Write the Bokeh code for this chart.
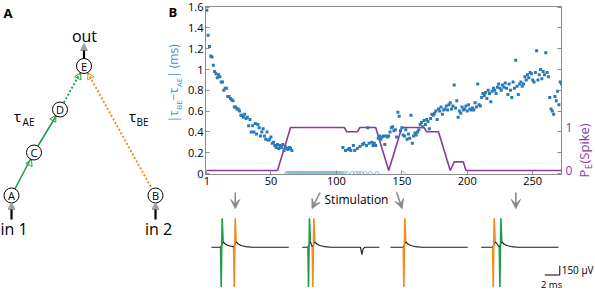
from math import pi
from bokeh.plotting import figure
from bokeh.models import (Range1d, LinearAxis, FixedTicker, CustomJSTickFormatter,
                          Arrow, VeeHead, NormalHead, ColumnDataSource)
from bokeh.layouts import row, column
from bokeh.embed import file_html
from bokeh.resources import INLINE
from bokeh.core.properties import value

FONT = "Open Sans"
BLUE = "#2a7ab8"
BLUE_LIGHT = "#72b2dc"
LABEL_BLUE = "#3d95cc"
PURPLE = "#8b3a9b"
GREEN = "#1f9e4a"
ORANGE = "#f7891f"
GRAY = "#8c8c8c"

# ---------------- panel B data ----------------
x_ticks = [1, 50, 100, 150, 200, 250]
y_ticks = [0, 0.2, 0.4, 0.6, 0.8, 1, 1.2, 1.4, 1.6]
p_ticks = [0, 1]

# |tau_BE - tau_AE| (ms), stimulations 1..66
tau_early = [1.57, 1.33, 1.22, 1.13, 1.12, 1.04, 0.98, 0.96, 0.92, 0.95,
             0.93, 0.88, 0.88, 0.80, 0.82, 0.82, 0.74, 0.74, 0.72, 0.71,
             0.70, 0.64, 0.64, 0.62, 0.62, 0.60, 0.56, 0.56, 0.54, 0.57,
             0.53, 0.54, 0.46, 0.52, 0.40, 0.46, 0.40, 0.48, 0.38, 0.47,
             0.44, 0.36, 0.40, 0.43, 0.36, 0.33, 0.40, 0.32, 0.33, 0.35,
             0.29, 0.30, 0.27, 0.25, 0.28, 0.24, 0.27, 0.25, 0.28, 0.22,
             0.26, 0.24, 0.23, 0.25, 0.24, 0.22]
tau_mid_stim = [105, 107, 109, 110, 111, 113, 114, 116, 118, 120, 121, 123,
                124, 125, 127, 128, 129, 130]
tau_mid = [0.25, 0.22, 0.23, 0.24, 0.22, 0.27, 0.22, 0.24, 0.26, 0.28, 0.29,
           0.27, 0.44, 0.29, 0.30, 0.27, 0.29, 0.27]
# stimulations 132..273
tau_late = [0.34, 0.36, 0.33, 0.35, 0.36, 0.28, 0.36, 0.35,
            0.36, 0.40, 0.44, 0.45, 0.41, 0.42, 0.35, 0.59, 0.55, 0.41,
            0.44, 0.37, 0.36, 0.42, 0.33, 0.38, 0.34, 0.56, 0.29, 0.36,
            0.39, 0.37, 0.40, 0.42, 0.47, 0.49, 0.45, 0.51, 0.47, 0.52,
            0.50, 0.43, 0.53, 0.57, 0.56, 0.58, 0.60, 0.52, 0.62, 0.60,
            0.64, 0.57, 0.61, 0.62, 0.65, 0.61, 0.66, 0.68, 0.62, 0.65,
            0.85, 0.63, 0.70, 0.54, 0.60, 0.58, 0.64, 0.61, 0.62, 0.65,
            0.60, 0.66, 0.62, 0.61, 0.63, 0.61, 0.68, 0.64, 0.86, 0.66,
            0.65, 0.73, 0.77, 0.75, 0.78, 0.72, 0.80, 0.77, 0.69, 0.79,
            0.82, 0.80, 0.77, 0.83, 0.86, 0.82, 0.80, 0.85, 0.83, 0.87,
            0.82, 0.76, 0.86, 0.80, 0.73, 0.88, 0.82, 1.09, 0.84, 0.76,
            0.86, 0.88, 0.84, 0.86, 0.93, 0.90, 0.95, 0.92, 0.97, 0.96,
            0.90, 0.88, 0.97, 1.18, 0.90, 0.95, 1.00, 0.91, 0.98, 0.95,
            1.16, 0.97, 0.93, 0.73, 0.62, 0.60, 0.57, 0.74, 0.70, 0.79,
            0.66, 0.88, 0.86, 0.84]
zero_stim = list(range(62, 105)) + [106, 108, 112, 115, 117, 119, 122, 126, 131, 151]

pspike_stim = [1, 55, 65, 106, 108, 116, 118, 130, 140, 150, 167, 169, 178, 187, 190, 197, 199, 274]
pspike = [0, 0, 1, 1, 0.9, 0.9, 1, 1, 0, 1, 1, 0.9, 0.9, 0, 0.2, 0.2, 0, 0]

# ---------------- example traces ----------------
arrow_from_stim = [24, 88, 146, 236]
arrow_to_stim = [24, 82, 150, 236]
trace_green_ms = [1.29, 0.84, None, 2.49]
trace_orange_ms = [3.03, 1.42, 1.78, 1.60]
trace_dip_ms = [None, 7.96, None, None]
trace_len_ms = 10.3
spike_dt = [-0.08, 0.0, 0.13, 0.26]
spike_uv = [0, -640, 465, 90]
decay_dt = [0.26, 0.5, 0.9, 1.5, 2.4]
decay_uv = [90, 55, 28, 10, 0]
dip_dt = [-0.2, 0.0, 0.15, 0.4]
dip_uv = [0, -120, -30, 0]
scale_ms, scale_uv = 2, 150

# ---------------- panel A diagram ----------------
node_name = ["A", "B", "C", "D", "E"]
node_x = [11, 155, 33.5, 59.5, 83.5]
node_y = [195, 195, 152, 109, 65.5]

# ---------------- layout constants (picture px) ----------------
WA = 185                     # panel A strip (also holds left axis title)
WB, HB = 390, 191            # panel B plot
BL, BR, BT, BB = 18, 12, 6, 17
WR = 20                      # right axis title strip
HT = 291 - HB                # traces strip
FR_L, FR_R = WA + BL, WA + WB - BR
FR_T, FR_B = BT, HB - BB
X0, X1 = 0, 272
Y0, Y1 = -1 / 104, 167 / 104
R0, R1 = -4 / 43, 164 / 43


def sx(px):
    return X0 + (px - FR_L) * (X1 - X0) / (FR_R - FR_L)


def base_fig(w, h, xr, yr):
    f = figure(width=w, height=h, x_range=xr, y_range=yr, x_axis_type=None, y_axis_type=None,
               toolbar_location=None, output_backend="svg", min_border=0,
               outline_line_color=None, frame_align=False)
    f.grid.visible = False
    return f


# ================= panel A =================
pa = base_fig(WA, 291, Range1d(0, WA), Range1d(291, 0))
nx = dict(zip(node_name, node_x))
ny = dict(zip(node_name, node_y))
pa.line([nx["A"], nx["C"], nx["D"]], [ny["A"], ny["C"], ny["D"]], line_color=GREEN, line_width=1.6)
pa.line([nx["D"], nx["E"]], [ny["D"], ny["E"]], line_color=GREEN, line_width=1.8, line_dash="2 2")
pa.line([nx["E"], nx["B"]], [ny["E"], ny["B"]], line_color=ORANGE, line_width=1.8, line_dash="2 2")
pa.scatter([29.3, 53.3, 78.3], [162.7, 118.3, 76], marker="triangle", size=7, fill_color=None,
           line_color=GREEN, line_width=1, angle=[-0.45, -0.52, -0.47])
pa.scatter([89.3], [76], marker="triangle", size=7, fill_color=None,
           line_color=ORANGE, line_width=1, angle=[0.48])
pa.scatter(node_x, node_y, marker="circle", size=15, fill_color="white", line_color="black", line_width=1)
pa.text(node_x, node_y, text=node_name, text_font=value(FONT), text_font_size="11px",
        text_align="center", text_baseline="middle", text_color="black")
for xs, y0, y1 in [(nx["A"], 219, 202), (nx["B"], 219, 202), (nx["E"], 58, 43)]:
    pa.add_layout(Arrow(end=NormalHead(size=7, fill_color="#a0a0a0", line_color="#a0a0a0"),
                        x_start=xs, y_start=y0, x_end=xs, y_end=y1,
                        line_color="black", line_width=2.2))
pa.text([84, 13.5, 158], [35, 228, 228], text=["out", "in 1", "in 2"],
        text_font=value(FONT), text_font_size="16px", text_align="center", text_baseline="middle")
pa.text([17, 132], [115, 115], text=["τ", "τ"], text_font=value(FONT), text_font_size="15px",
        text_align="center", text_baseline="middle")
pa.text([28, 142], [121.5, 121.5], text=["AE", "BE"], text_font=value(FONT), text_font_size="10px",
        text_align="center", text_baseline="middle")
pa.text([3, 168], [3, 2], text=["A", "B"], text_font=value(FONT), text_font_size="13px",
        text_font_style="bold", text_align="left", text_baseline="top")
# left axis title of panel B: |tau_BE - tau_AE| (ms), rotated
ylab_txt = ["|τ", "BE", "−τ", "AE", "| (ms)"]
ylab_y = [122, 109.4, 99.9, 86.8, 77.4]
ylab_x = [172.5, 178, 172.5, 178, 172.5]
ylab_fs = ["12px", "8px", "12px", "8px", "12px"]
for t, yy, xx, fs in zip(ylab_txt, ylab_y, ylab_x, ylab_fs):
    pa.text([xx], [yy], text=[t], angle=pi / 2, text_font=value(FONT), text_font_size=fs,
            text_color=LABEL_BLUE, text_align="left", text_baseline="middle")

# ================= panel B =================
pb = figure(width=WB, height=HB, x_range=Range1d(X0, X1), y_range=Range1d(Y0, Y1),
            toolbar_location=None, output_backend="svg", frame_align=False,
            min_border_left=BL, min_border_right=BR, min_border_top=BT, min_border_bottom=BB,
            outline_line_color=GRAY)
pb.extra_y_ranges = {"right": Range1d(R0, R1)}
pb.grid.visible = False
fmt = CustomJSTickFormatter(code="return String(tick);")
pb.xaxis.ticker = FixedTicker(ticks=x_ticks)
pb.yaxis.ticker = FixedTicker(ticks=y_ticks)
# tick marks mirrored on the right edge (labels not drawn)
rticks = LinearAxis(ticker=FixedTicker(ticks=y_ticks), major_label_text_font_size="1px",
                    major_label_text_color=None, major_label_standoff=0,
                    major_tick_in=4, major_tick_out=0,
                    minor_tick_line_color=None, axis_line_color=None, major_tick_line_color=GRAY)
pb.add_layout(rticks, "right")
raxis = LinearAxis(y_range_name="right", ticker=FixedTicker(ticks=p_ticks))
pb.add_layout(raxis, "right")
for ax in [pb.xaxis[0], pb.yaxis[0], raxis]:
    ax.formatter = fmt
    ax.major_tick_in = 4
    ax.major_tick_out = 0
    ax.minor_tick_line_color = None
    ax.axis_line_color = GRAY
    ax.major_tick_line_color = GRAY
    ax.major_label_text_font = FONT
    ax.major_label_text_font_size = "11px"
    ax.major_label_text_color = "black"
    ax.major_label_standoff = 2
raxis.major_label_text_color = PURPLE
raxis.major_label_text_font_size = "12px"
raxis.major_label_standoff = 4
raxis.major_tick_line_color = None
raxis.axis_line_color = None

pb.scatter(zero_stim, [0] * len(zero_stim), marker="circle", size=4, fill_color=None,
           line_color=BLUE_LIGHT, line_width=0.8)
pb.line(pspike_stim, pspike, y_range_name="right", line_color=PURPLE, line_width=1.6)
tau_stim = list(range(1, 1 + len(tau_early))) + tau_mid_stim + list(range(132, 132 + len(tau_late)))
tau_val = tau_early + tau_mid + tau_late
pb.scatter(tau_stim, tau_val, marker="square", size=3, fill_color=BLUE, line_color=None)

# ================= right axis title strip =================
pr = base_fig(WR, HB, Range1d(WA + WB, WA + WB + WR), Range1d(HB, 0))
for t, yy, xx, fs in zip(["P", "E", "(Spike)"], [177, 168.5, 163], [583.5, 587.5, 583.5],
                         ["13px", "9px", "13px"]):
    pr.text([xx], [yy], text=[t], angle=pi / 2, text_font=value(FONT), text_font_size=fs,
            text_color=PURPLE, text_align="left", text_baseline="middle")

# ================= traces =================
PX_PER_MS = 7.5
UV_PER_PX = 150 / 9.3
BASE_PY = 246.7
WT = WB + WR
pt = base_fig(WT, HT, Range1d(sx(WA), sx(WA + WT)),
              Range1d(-(291 - BASE_PY) * UV_PER_PX, (BASE_PY - HB) * UV_PER_PX))
pt.extra_x_ranges = {"ms": Range1d(0, WT / PX_PER_MS)}


def uv(py):
    return (BASE_PY - py) * UV_PER_PX


trace_start_ms = [(px - WA) / PX_PER_MS for px in [211, 301.7, 390, 480.7]]

black_xs, black_ys, sp_xs, sp_ys, sp_col = [], [], [], [], []
for k in range(4):
    t0 = trace_start_ms[k]
    spikes = []
    if trace_green_ms[k] is not None:
        spikes.append((trace_green_ms[k], GREEN))
    spikes.append((trace_orange_ms[k], ORANGE))
    spikes.sort()
    ts, vs = [0.0], [0.0]
    for i, (s, c) in enumerate(spikes):
        nxt = spikes[i + 1][0] + spike_dt[0] if i + 1 < len(spikes) else trace_len_ms
        ts.append(s + spike_dt[0]); vs.append(0.0)
        for d, u in zip(decay_dt, decay_uv):
            if s + d < nxt:
                ts.append(s + d); vs.append(u)
        sp_xs.append([t0 + s + d for d in spike_dt]); sp_ys.append(list(spike_uv)); sp_col.append(c)
    if trace_dip_ms[k] is not None:
        for d, u in zip(dip_dt, dip_uv):
            ts.append(trace_dip_ms[k] + d); vs.append(u)
    ts.append(trace_len_ms); vs.append(0.0)
    black_xs.append([t0 + t for t in ts]); black_ys.append(vs)

pt.multi_line(black_xs, black_ys, x_range_name="ms", line_color="#1a1a1a", line_width=1.1)
pt.multi_line(xs="xs", ys="ys", line_color="c", x_range_name="ms", line_width=1.6,
              source=ColumnDataSource(dict(xs=sp_xs, ys=sp_ys, c=sp_col)))

for a, b in zip(arrow_from_stim, arrow_to_stim):
    pt.add_layout(Arrow(end=VeeHead(size=9, fill_color="#8a8a8a", line_color="#8a8a8a"),
                        x_start=a, y_start=uv(192), x_end=b, y_end=uv(208),
                        line_color="#8a8a8a", line_width=1.6))
pt.text([sx(356)], [uv(198.5)], text=["Stimulation"], text_font=value(FONT), text_font_size="12px",
        text_align="center", text_baseline="middle")

sb_x = (559.3 - WA) / PX_PER_MS
sb_y = uv(274.5)
pt.line([sb_x - scale_ms, sb_x, sb_x], [sb_y, sb_y, sb_y + scale_uv], x_range_name="ms",
        line_color="black", line_width=1)
pt.text([sb_x + 0.25], [sb_y + scale_uv / 2], text=["150 μV"], x_range_name="ms",
        text_font=value(FONT), text_font_size="10px", text_align="left", text_baseline="middle")
pt.text([sb_x - scale_ms / 2 - 0.1], [uv(284)], text=["2 ms"], x_range_name="ms",
        text_font=value(FONT), text_font_size="9.5px", text_align="center",
        text_baseline="alphabetic")

layout = row(pa, column(row(pb, pr), pt))
open("out.html", "w").write(file_html(layout, INLINE))
